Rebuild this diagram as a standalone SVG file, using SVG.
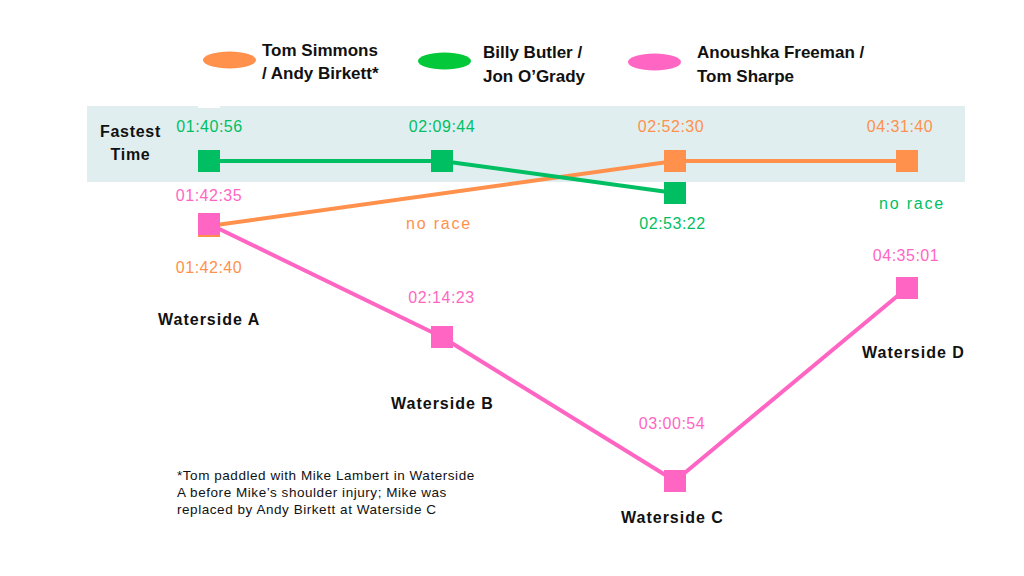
<svg xmlns="http://www.w3.org/2000/svg" width="1024" height="576" viewBox="0 0 1024 576">
<style>
.leg{font-family:"Liberation Sans",Arial,sans-serif;font-weight:bold;font-size:17px;fill:#111}
.lbl{font-family:"Liberation Sans",Arial,sans-serif;font-weight:bold;font-size:16px;letter-spacing:1px;fill:#111}
.t{font-family:"Liberation Sans",Arial,sans-serif;font-size:16px;letter-spacing:0.5px;text-anchor:middle}
.nr{font-family:"Liberation Sans",Arial,sans-serif;font-size:16px;letter-spacing:1.8px;text-anchor:middle}
.note{font-family:"Liberation Sans",Arial,sans-serif;font-size:13.5px;letter-spacing:0.55px;fill:#111}
.g{fill:#00BF63}.o{fill:#FF914D}.p{fill:#FF66C4}
.line{fill:none;stroke-width:4;stroke-linejoin:round}
</style>
<rect width="1024" height="576" fill="#ffffff"/>
<rect id="band" x="87" y="106" width="878" height="76" fill="#E1EEF0"/>
<rect x="198" y="105" width="22" height="3" fill="#ffffff"/>
<g id="band-label">
<text class="lbl" x="130.5" y="137" text-anchor="middle" style="letter-spacing:0.7px">Fastest</text>
<text class="lbl" x="130.5" y="160" text-anchor="middle" style="letter-spacing:0.7px">Time</text>
</g>
<g id="legend">
<ellipse cx="229.5" cy="60" rx="26.5" ry="8.5" fill="#FF914D"/>
<text class="leg" x="262" y="56">Tom Simmons</text>
<text class="leg" x="262" y="79">/ Andy Birkett*</text>
<ellipse cx="444.5" cy="61" rx="26.5" ry="8.5" fill="#02C83A"/>
<text class="leg" x="483" y="58">Billy Butler /</text>
<text class="leg" x="483" y="82">Jon O’Grady</text>
<ellipse cx="654.5" cy="62" rx="26.5" ry="8.5" fill="#FF66C4"/>
<text class="leg" x="697" y="58">Anoushka Freeman /</text>
<text class="leg" x="697" y="82">Tom Sharpe</text>
</g>
<g id="connectors">
<polyline class="line" stroke="#FF914D" points="209,226 675,161 907,161"/>
<polyline class="line" stroke="#00BF63" points="209,161 442,161 675,193"/>
<polyline class="line" stroke="#FF66C4" points="209,224 442,337 675,481 907,288"/>
</g>
<g id="tom-simmons">
<rect class="o" x="198" y="215" width="22" height="22"/>
<rect class="o" x="664" y="150" width="22" height="22"/>
<rect class="o" x="896" y="150" width="22" height="22"/>
<text class="t o" x="209" y="273">01:42:40</text>
<text class="nr o" x="439" y="229">no race</text>
<text class="t o" x="671" y="132">02:52:30</text>
<text class="t o" x="900" y="132">04:31:40</text>
</g>
<g id="billy-butler">
<rect class="g" x="198" y="150" width="22" height="22"/>
<rect class="g" x="431" y="150" width="22" height="22"/>
<rect class="g" x="664" y="182" width="22" height="22"/>
<text class="t g" x="209.5" y="132">01:40:56</text>
<text class="t g" x="442" y="132">02:09:44</text>
<text class="t g" x="672.5" y="229">02:53:22</text>
<text class="nr g" x="912" y="209">no race</text>
</g>
<g id="anoushka-freeman">
<rect class="p" x="198" y="213" width="22" height="22"/>
<rect class="p" x="431" y="326" width="22" height="22"/>
<rect class="p" x="664" y="470" width="22" height="22"/>
<rect class="p" x="896" y="277" width="22" height="22"/>
<text class="t p" x="209" y="201">01:42:35</text>
<text class="t p" x="441.5" y="303">02:14:23</text>
<text class="t p" x="672" y="429">03:00:54</text>
<text class="t p" x="906" y="261">04:35:01</text>
</g>
<g id="waterside-labels">
<text class="lbl" x="158" y="325">Waterside A</text>
<text class="lbl" x="391" y="409">Waterside B</text>
<text class="lbl" x="621" y="523">Waterside C</text>
<text class="lbl" x="862" y="358">Waterside D</text>
</g>
<g id="footnote">
<text class="note" x="177" y="480">*Tom paddled with Mike Lambert in Waterside</text>
<text class="note" x="177" y="497">A before Mike’s shoulder injury; Mike was</text>
<text class="note" x="177" y="514">replaced by Andy Birkett at Waterside C</text>
</g>
</svg>
